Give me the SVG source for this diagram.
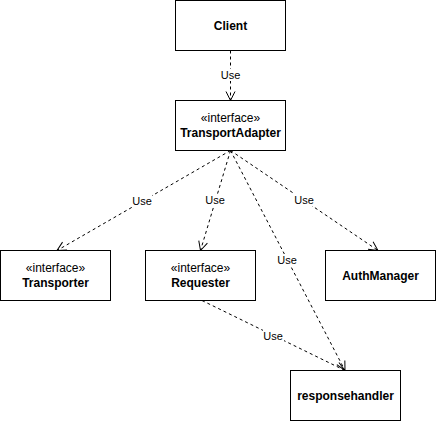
<svg xmlns="http://www.w3.org/2000/svg" width="436" height="421" viewBox="0 0 436 421">
<style>
.box{fill:#fff;stroke:#000;stroke-width:1}
.t{font-family:"Liberation Sans",Arial,sans-serif;font-size:12px;fill:#000;text-anchor:middle}
.b{font-weight:bold}
.e{fill:none;stroke:#000;stroke-width:1;stroke-dasharray:3,3}
.lbl{font-family:"Liberation Sans",Arial,sans-serif;font-size:11px;fill:#000;text-anchor:middle}
.lb{fill:#fff}
</style>
<defs>
<marker id="open" markerUnits="userSpaceOnUse" markerWidth="20" markerHeight="20" refX="10" refY="10" orient="auto" overflow="visible">
<path d="M1,5.5 L10,10 L1,14.5" fill="none" stroke="#000" stroke-width="1"/>
</marker>
</defs>
<rect width="436" height="421" fill="#fff"/>
<g id="connectors">
<path class="e" d="M230.5,50.5 L230.5,100.5" marker-end="url(#open)"/>
<path class="e" d="M230.5,150.5 L57,250.5" marker-end="url(#open)"/>
<path class="e" d="M230.5,150.5 L200.5,250.5" marker-end="url(#open)"/>
<path class="e" d="M230.5,150.5 L378,250.5" marker-end="url(#open)"/>
<path class="e" d="M230.5,150.5 L345,370.5" marker-end="url(#open)"/>
<path class="e" d="M202,300.5 L345,370.5" marker-end="url(#open)"/>
<rect class="lb" x="220" y="69" width="21" height="12"/>
<text class="lbl" x="230.5" y="79">Use</text>
<rect class="lb" x="131" y="195" width="21" height="12"/>
<text class="lbl" x="142" y="205">Use</text>
<rect class="lb" x="205" y="194" width="21" height="12"/>
<text class="lbl" x="215" y="204">Use</text>
<rect class="lb" x="294" y="194" width="21" height="12"/>
<text class="lbl" x="304" y="204">Use</text>
<rect class="lb" x="277" y="254" width="21" height="12"/>
<text class="lbl" x="287" y="264">Use</text>
<rect class="lb" x="263" y="330" width="21" height="12"/>
<text class="lbl" x="273" y="340">Use</text>
</g>
<g id="client">
<rect class="box" x="175.5" y="0.5" width="110" height="50"/>
<text class="t b" x="230.5" y="30">Client</text>
</g>
<g id="transportadapter">
<rect class="box" x="175.5" y="100.5" width="110" height="50"/>
<text class="t" x="230.5" y="122">«interface»</text>
<text class="t b" x="230.5" y="137">TransportAdapter</text>
</g>
<g id="transporter">
<rect class="box" x="0.5" y="250.5" width="110" height="50"/>
<text class="t" x="55.5" y="272">«interface»</text>
<text class="t b" x="55.5" y="287">Transporter</text>
</g>
<g id="requester">
<rect class="box" x="145.5" y="250.5" width="110" height="50"/>
<text class="t" x="200.5" y="272">«interface»</text>
<text class="t b" x="200.5" y="287">Requester</text>
</g>
<g id="authmanager">
<rect class="box" x="325.5" y="250.5" width="110" height="50"/>
<text class="t b" x="380.5" y="280">AuthManager</text>
</g>
<g id="responsehandler">
<rect class="box" x="290.5" y="370.5" width="110" height="50"/>
<text class="t b" x="345.5" y="400">responsehandler</text>
</g>
</svg>
